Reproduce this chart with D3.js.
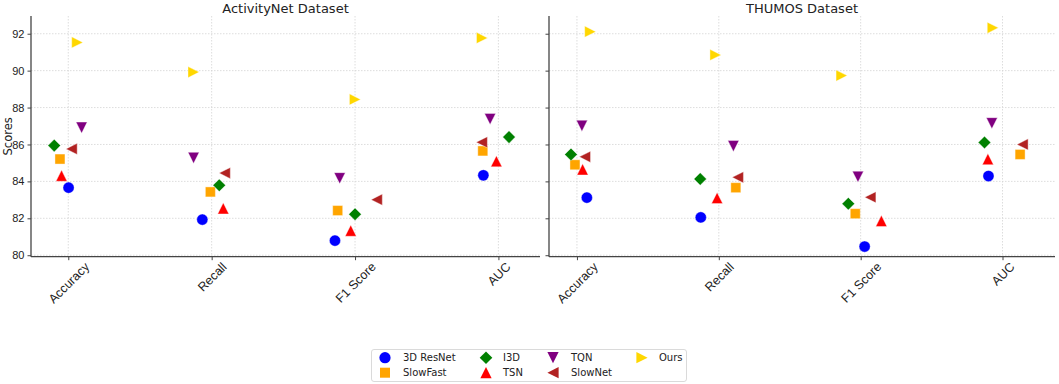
<!DOCTYPE html>
<html>
<head>
<meta charset="utf-8">
<script src="https://cdn.jsdelivr.net/npm/d3@7"></script>
<style>
  html, body { margin: 0; padding: 0; background: #fff; }
  svg { display: block; font-family: "DejaVu Sans", sans-serif; }
</style>
</head>
<body>
<svg id="chart" width="1059" height="384"></svg>
<script>
// ---------- data ----------
const categories = ["Accuracy", "Recall", "F1 Score", "AUC"];
const models = ["3D ResNet", "SlowFast", "I3D", "TSN", "TQN", "SlowNet", "Ours"];
const yTicks = [80, 82, 84, 86, 88, 90, 92];
const datasetTitles = ["ActivityNet Dataset", "THUMOS Dataset"];

// scores per model (rows follow `models`), columns follow `categories`
const activityNetScores = [
  [83.66, 81.93, 80.79, 84.33],
  [85.21, 83.43, 82.42, 85.65],
  [85.94, 83.79, 82.22, 86.40],
  [84.31, 82.54, 81.33, 85.09],
  [86.91, 85.27, 84.17, 87.38],
  [85.76, 84.45, 83.01, 86.12],
  [91.53, 89.92, 88.44, 91.77]
];
const thumosScores = [
  [83.12, 82.05, 80.47, 84.29],
  [84.90, 83.66, 82.25, 85.46],
  [85.46, 84.13, 82.79, 86.11],
  [84.65, 83.10, 81.86, 85.21],
  [87.01, 85.91, 84.25, 87.15],
  [85.33, 84.22, 83.14, 86.00],
  [92.11, 90.85, 89.73, 92.32]
];
// horizontal jitter (category units)
const activityNetJitter = [
  [0.002, -0.065, -0.140, -0.105],
  [-0.058, -0.009, -0.121, -0.109],
  [-0.098, 0.053, 0.000, 0.074],
  [-0.047, 0.081, -0.030, -0.014],
  [0.093, -0.126, -0.107, -0.058],
  [0.023, 0.091, 0.151, -0.116],
  [0.063, -0.126, 0.000, -0.114]
];
const thumosJitter = [
  [0.070, -0.127, 0.028, -0.099],
  [-0.014, 0.120, -0.038, 0.124],
  [-0.042, -0.131, -0.087, -0.127],
  [0.040, -0.012, 0.146, -0.103],
  [0.035, 0.103, -0.019, -0.075],
  [0.056, 0.134, 0.068, 0.141],
  [0.094, -0.023, -0.134, -0.068]
];

// ---------- styles ----------
const colors = ["#0000ff", "#ffa500", "#008000", "#ff0000", "#800080", "#b22222", "#ffd700"];
const shapes = ["circle", "square", "diamond", "triUp", "triDown", "triLeft", "triRight"];

function shapePath(s) {
  const p = d3.path();
  if (s === "circle") { p.arc(0, 0, 5.6, 0, 2 * Math.PI); }
  else if (s === "square") { p.rect(-5, -5, 10, 10); }
  else if (s === "diamond") { p.moveTo(0, -6.3); p.lineTo(6.3, 0); p.lineTo(0, 6.3); p.lineTo(-6.3, 0); }
  else if (s === "triUp") { p.moveTo(0, -5.6); p.lineTo(5.6, 5.6); p.lineTo(-5.6, 5.6); }
  else if (s === "triDown") { p.moveTo(0, 5.6); p.lineTo(5.6, -5.6); p.lineTo(-5.6, -5.6); }
  else if (s === "triLeft") { p.moveTo(-5.6, 0); p.lineTo(5.6, -5.6); p.lineTo(5.6, 5.6); }
  else if (s === "triRight") { p.moveTo(5.6, 0); p.lineTo(-5.6, -5.6); p.lineTo(-5.6, 5.6); }
  p.closePath();
  return p.toString();
}

const svg = d3.select("#chart");
const plotTop = 16, plotBottom = 256.7;
const y = d3.scaleLinear().domain([79.92, 92.96]).range([plotBottom, plotTop]);

const panels = [
  { title: datasetTitles[0], scores: activityNetScores, jitter: activityNetJitter,
    x: d3.scaleLinear().domain([-0.26, 3.29]).range([31, 540]), showY: true },
  { title: datasetTitles[1], scores: thumosScores, jitter: thumosJitter,
    x: d3.scaleLinear().domain([-0.197, 3.37]).range([549, 1055]), showY: false }
];

panels.forEach(pn => {
  const g = svg.append("g");
  const [x0, x1] = pn.x.range();

  // grid
  g.selectAll("line.hg").data(yTicks).join("line")
    .attr("x1", x0).attr("x2", x1)
    .attr("y1", d => y(d)).attr("y2", d => y(d))
    .attr("stroke", "#d4d4d4").attr("stroke-width", 0.8).attr("stroke-dasharray", "1.5,1.5");
  g.selectAll("line.vg").data(categories).join("line")
    .attr("x1", (d, i) => pn.x(i)).attr("x2", (d, i) => pn.x(i))
    .attr("y1", plotTop).attr("y2", plotBottom)
    .attr("stroke", "#d4d4d4").attr("stroke-width", 0.8).attr("stroke-dasharray", "1.5,1.5");

  // y axis
  const ya = d3.axisLeft(y).tickValues(yTicks).tickSize(3.5).tickPadding(3)
    .tickFormat(pn.showY ? d3.format("d") : () => "");
  const yg = g.append("g").attr("transform", `translate(${x0},0)`).call(ya);
  yg.select(".domain").remove();
  yg.selectAll("text").attr("font-size", 11).attr("fill", "#222");
  yg.selectAll("line").attr("stroke", "#444");

  // x axis
  const xa = d3.axisBottom(pn.x).tickValues([0, 1, 2, 3]).tickSize(3.5)
    .tickFormat(i => categories[i]);
  const xg = g.append("g").attr("transform", `translate(0,${plotBottom})`).call(xa);
  xg.select(".domain").remove();
  xg.selectAll("line").attr("stroke", "#444");
  xg.selectAll("text")
    .attr("font-size", 12.5).attr("fill", "#222")
    .each(function () {
      const t = d3.select(this);
      const w = this.getComputedTextLength();
      const half = (w / 2) * Math.SQRT1_2 + 4.4;
      t.attr("y", 0).attr("x", 0).attr("dy", "0.35em")
        .attr("text-anchor", "middle")
        .attr("transform", `translate(0,${3.5 + half}) rotate(-45)`);
    });

  // spines
  g.append("line").attr("x1", x0).attr("x2", x0).attr("y1", plotTop).attr("y2", plotBottom)
    .attr("stroke", "#444").attr("stroke-width", 1.3);
  g.append("line").attr("x1", x0).attr("x2", x1).attr("y1", plotBottom).attr("y2", plotBottom)
    .attr("stroke", "#444").attr("stroke-width", 1.3);

  // title
  g.append("text").attr("x", (x0 + x1) / 2).attr("y", 13)
    .attr("text-anchor", "middle").attr("font-size", 13).attr("fill", "#222")
    .text(pn.title);

  // points
  models.forEach((m, mi) => {
    g.selectAll(null).data(pn.scores[mi]).join("path")
      .attr("d", shapePath(shapes[mi]))
      .attr("transform", (v, ci) => `translate(${pn.x(ci + pn.jitter[mi][ci])},${y(v)})`)
      .attr("fill", colors[mi])
      .attr("stroke", "#fff").attr("stroke-width", 0.4);
  });
});

// y label
svg.append("text").attr("transform", `translate(7.5,${(plotTop + plotBottom) / 2}) rotate(-90)`)
  .attr("text-anchor", "middle").attr("dy", "0.35em").attr("font-size", 11.5).attr("fill", "#222").text("Scores");

// legend
const lg = svg.append("g");
lg.append("rect").attr("x", 371.5).attr("y", 349.5).attr("width", 315).attr("height", 32)
  .attr("rx", 2.5).attr("fill", "#fff").attr("stroke", "#d0d0d0").attr("stroke-width", 0.8);
const colMarkX = [385, 486, 553, 642];
const colTextX = [403, 503, 571, 659];
const rowY = [357.7, 372.7];
models.forEach((m, i) => {
  const c = Math.floor(i / 2), r = i % 2;
  lg.append("path").attr("d", shapePath(shapes[i]))
    .attr("transform", `translate(${colMarkX[c]},${rowY[r]})`)
    .attr("fill", colors[i]);
  lg.append("text").attr("x", colTextX[c]).attr("y", rowY[r]).attr("dy", "0.35em")
    .attr("font-size", 10).attr("fill", "#222").text(m);
});
</script>
</body>
</html>
